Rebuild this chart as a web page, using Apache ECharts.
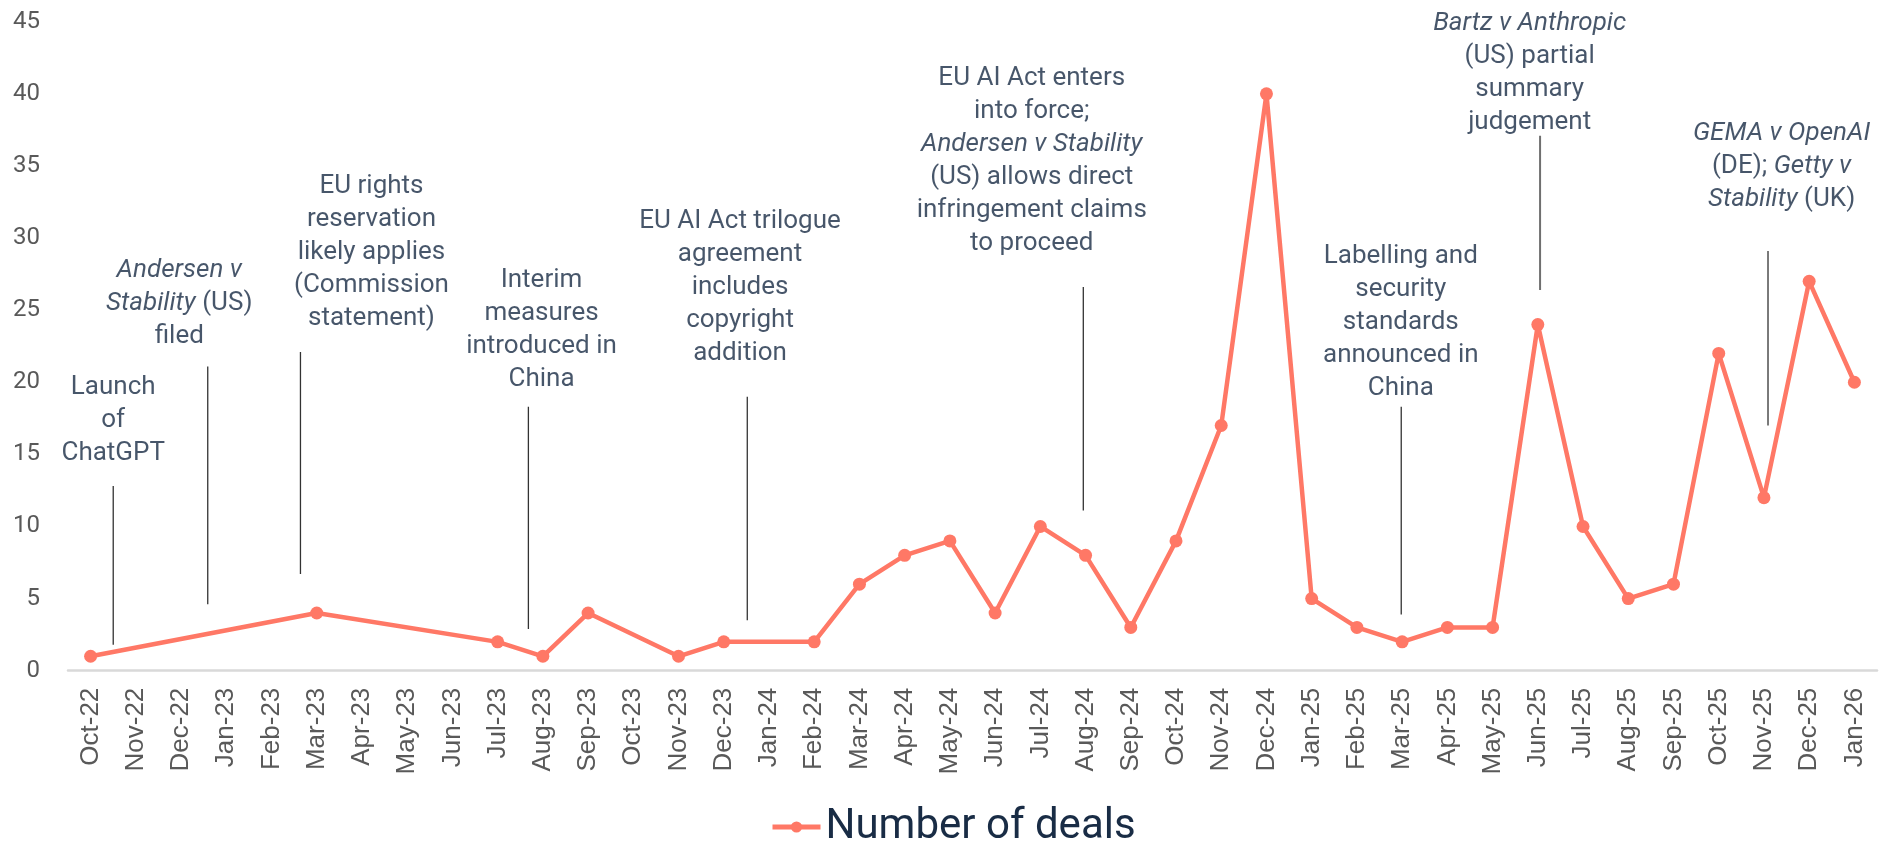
<!DOCTYPE html>
<html>
<head>
<meta charset="utf-8">
<script src="https://cdn.jsdelivr.net/npm/echarts@6/dist/echarts.min.js"></script>
<style>
html,body{margin:0;padding:0;background:#fff;}
#chart{width:1888px;height:845px;}
</style>
</head>
<body>
<div id="chart"></div>
<script>
var categories = ['Oct-22','Nov-22','Dec-22','Jan-23','Feb-23','Mar-23','Apr-23','May-23','Jun-23','Jul-23','Aug-23','Sep-23','Oct-23','Nov-23','Dec-23','Jan-24','Feb-24','Mar-24','Apr-24','May-24','Jun-24','Jul-24','Aug-24','Sep-24','Oct-24','Nov-24','Dec-24','Jan-25','Feb-25','Mar-25','Apr-25','May-25','Jun-25','Jul-25','Aug-25','Sep-25','Oct-25','Nov-25','Dec-25','Jan-26'];
var dealCounts = [1,null,null,null,null,4,null,null,null,2,1,4,null,1,2,null,2,6,8,9,4,10,8,3,9,17,40,5,3,2,3,3,24,10,5,6,22,12,27,20];
var seriesName = 'Number of deals';
var yTicks = {min:0, max:45, interval:5};

// Annotation events: x in month-index units, line from yTop to yBottom, label anchored at (labelX, labelY) in data units
var eventTexts = [
  'Launch\nof\nChatGPT',
  '{i|Andersen v}\n{i|Stability} (US)\nfiled',
  'EU rights\nreservation\nlikely applies\n(Commission\nstatement)',
  'Interim\nmeasures\nintroduced in\nChina',
  'EU AI Act trilogue\nagreement\nincludes\ncopyright\naddition',
  'EU AI Act enters\ninto force;\n{i|Andersen v Stability}\n(US) allows direct\ninfringement claims\nto proceed',
  'Labelling and\nsecurity\nstandards\nannounced in\nChina',
  '{i|Bartz v Anthropic}\n(US) partial\nsummary\njudgement',
  '{i|GEMA v OpenAI}\n(DE); {i|Getty v}\n{i|Stability} (UK)'
];
var eventLineX = [0.50, 2.59, 4.64, 9.68, 14.52, 21.95, 28.98, 32.05, 37.09];
var eventLineTop = [12.8, 21.1, 22.1, 18.3, 19.0, 26.6, 18.3, 37.1, 29.1];
var eventLineBottom = [1.8, 4.6, 6.7, 2.9, 3.5, 11.1, 3.9, 26.4, 17.0];
var eventLabelX = [0.50, 1.96, 6.21, 9.97, 14.36, 20.81, 28.97, 31.82, 37.39];
var eventLabelY = [13.9, 22.0, 23.3, 19.05, 20.85, 28.5, 18.45, 36.9, 31.5];

var chart = echarts.init(document.getElementById('chart'), null, {renderer:'canvas'});

var navy = '#192c45';
var series = [{
  name: seriesName,
  type: 'line',
  data: dealCounts,
  connectNulls: true,
  symbol: 'circle',
  symbolSize: 13,
  lineStyle: {color:'#ff7866', width:4.5},
  itemStyle: {color:'#ff7866'},
  z: 5
}];

eventLineX.forEach(function(x, i){
  series.push({
    type: 'line',
    xAxisIndex: 1,
    data: [[x, eventLineTop[i]], [x, eventLineBottom[i]]],
    symbol: 'none',
    silent: true,
    lineStyle: {color: i === 7 ? '#6f6f6f' : '#333333', width: i === 7 ? 2 : 1.3},
    z: 2
  });
});

series.push({
  type: 'scatter',
  xAxisIndex: 1,
  symbolSize: 0,
  silent: true,
  data: eventLabelX.map(function(x, i){ return {value:[x, eventLabelY[i]], label:{formatter: eventTexts[i]}}; }),
  label: {
    show: true,
    position: 'top',
    distance: 0,
    align: 'center',
    fontFamily: 'Roboto',
    fontSize: 26,
    lineHeight: 33,
    color: navy,
    rich: {
      i: {fontStyle:'italic', fontFamily:'Roboto', fontSize:26, lineHeight:33, color:navy}
    }
  },
  z: 3
});

chart.setOption({
  animation: false,
  backgroundColor: '#ffffff',
  grid: {left:68, right:11, top:21.7, bottom:174.3, containLabel:false},
  legend: {
    data: [seriesName],
    left: 765,
    top: 801,
    itemWidth: 48,
    itemHeight: 14,
    itemGap: 10,
    lineStyle: {width: 5},
    textStyle: {fontFamily:'Roboto', fontSize:42, color:navy, padding:[0,0,0,0]}
  },
  xAxis: [{
    type: 'category',
    data: categories,
    boundaryGap: true,
    axisLine: {show:true, lineStyle:{color:'#d9d9d9', width:2.5}},
    axisTick: {show:false},
    splitLine: {show:false},
    axisLabel: {rotate:90, margin:17, fontFamily:'Liberation Sans', fontSize:26, color:'#595959', interval:0}
  },{
    type: 'value',
    show: false,
    min: -0.5,
    max: 39.5,
    position: 'bottom'
  }],
  yAxis: {
    type: 'value',
    min: yTicks.min,
    max: yTicks.max,
    interval: yTicks.interval,
    axisLine: {show:false},
    axisTick: {show:false},
    splitLine: {show:false},
    axisLabel: {margin:28, fontFamily:'Roboto', fontSize:24, color:'#595959'}
  },
  series: series
});
</script>
</body>
</html>
